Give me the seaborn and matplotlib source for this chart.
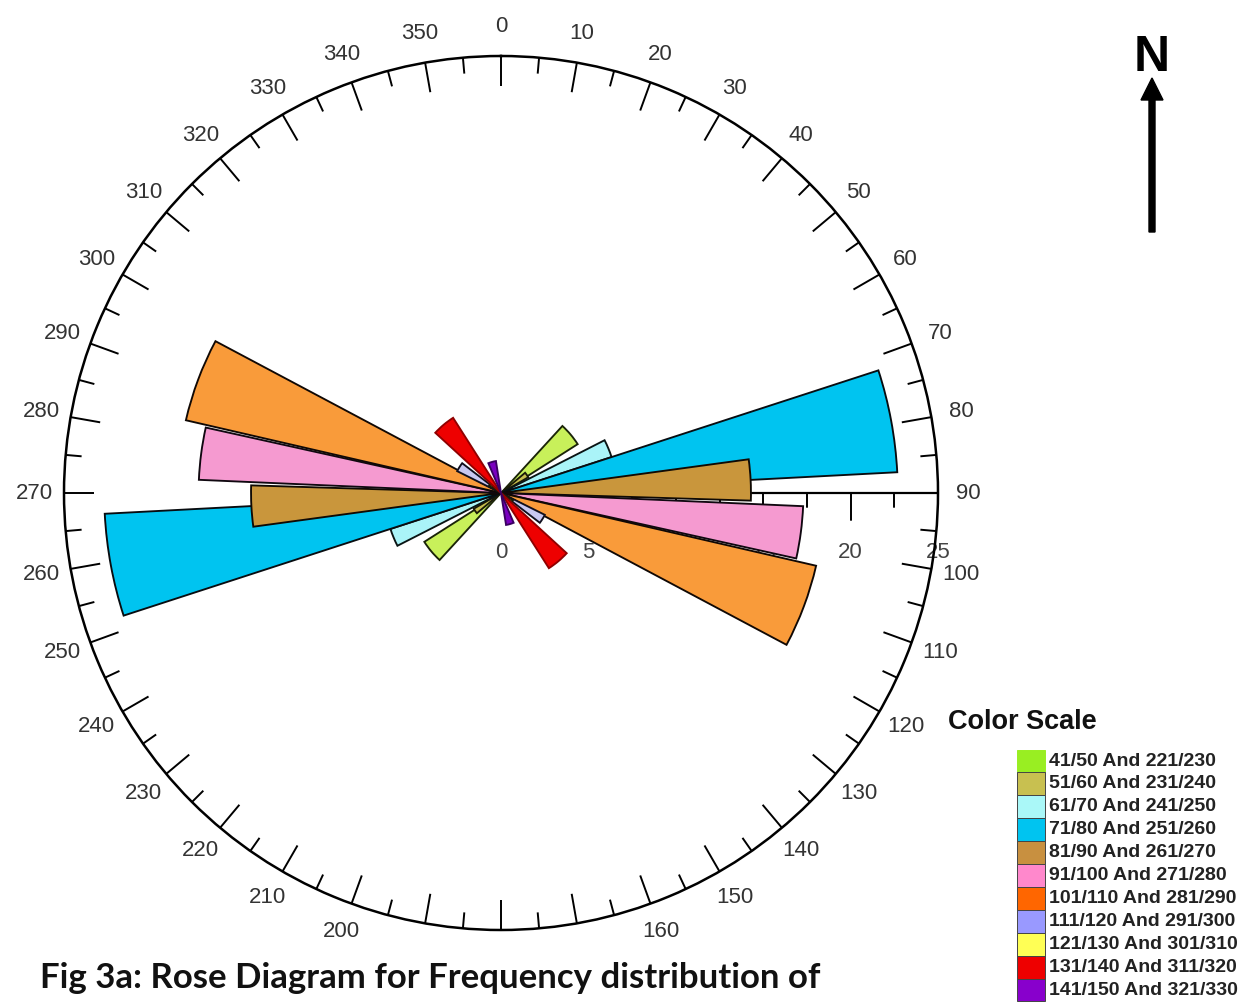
import numpy as np
import matplotlib
matplotlib.use("Agg")
import matplotlib.pyplot as plt
from matplotlib.patches import Rectangle, FancyArrow
import seaborn as sns

# ---- data: joint-strike frequency per direction class (bidirectional) ----
bin_labels = [
    "41/50 And 221/230",
    "51/60 And 231/240",
    "61/70 And 241/250",
    "71/80 And 251/260",
    "81/90 And 261/270",
    "91/100 And 271/280",
    "101/110 And 281/290",
    "111/120 And 291/300",
    "121/130 And 301/310",
    "131/140 And 311/320",
    "141/150 And 321/330",
]
petal_azimuth = [50, 55, 67.5, 79.5, 87, 97.5, 110.5, 122, 126, 140, 164]
petal_span = [15, 10, 9, 15, 9.5, 10, 15, 11, 10, 15, 14]
frequency = [5.2, 1.8, 6.65, 22.7, 14.3, 17.3, 18.5, 2.8, 0.8, 5.1, 1.85]

petal_colors = ["#c8f05a", "#c8c050", "#aaf4f8", "#00c4f0", "#c9963c", "#f59ad0",
                "#f99b3a", "#c8c8f2", "#ffff60", "#ee0000", "#7a00c0"]
petal_edges = ["#1a2408", "#1a1a08", "#0a1414", "#080c10", "#100a04", "#100810",
               "#100804", "#10101e", "#1a1a08", "#900000", "#3a0060"]
swatch_colors = ["#99ee22", "#c8c050", "#aaf8f8", "#00c4f0", "#c89040", "#ff88cc",
                 "#ff6600", "#9999ff", "#ffff55", "#ee0000", "#8800cc"]

radial_ticks = [0, 5, 10, 15, 20, 25]
compass_labels = [a for a in range(0, 360, 10) if a not in (170, 180, 190)]

sns.set_theme(style="white")
plt.rcParams["font.family"] = ["Liberation Sans", "DejaVu Sans"]

W, H = 1244, 1005
fig = plt.figure(figsize=(W / 100, H / 100), dpi=100)
fig.patch.set_facecolor("white")

cx, cy, R = 501, 493, 437          # rose centre and outer radius in pixels
rmax = 25
px = rmax / R                      # radial units per pixel

ax = fig.add_axes([(cx - R) / W, (H - cy - R) / H, 2 * R / W, 2 * R / H],
                  projection="polar")
ax.set_theta_zero_location("N")
ax.set_theta_direction(-1)
ax.set_ylim(0, rmax)
ax.grid(False)
ax.set_xticks([])
ax.set_yticks([])
ax.set_facecolor("none")
ax.spines["polar"].set_linewidth(1.8)
ax.spines["polar"].set_color("black")

# compass ticks on the rim
ang = np.arange(0, 360, 5)
tick_len = np.where(ang % 10 == 0, 30, 16) * px
ax.vlines(np.deg2rad(ang), rmax - tick_len, rmax, colors="black", lw=1.4, zorder=2)
for a in compass_labels:
    ax.text(np.deg2rad(a), 467 * px, str(a), ha="center", va="center",
            fontsize=16, color="#333333", clip_on=False)

# radial frequency scale along east
east = np.pi / 2
ax.plot([east, east], [0, rmax], color="black", lw=1.6, zorder=1.5)
for r in np.arange(2.5, rmax + 0.01, 2.5):
    L = (27 if abs(r % 5) < 1e-6 else 14) * px
    ax.plot([east, east + np.arctan2(L, r)], [r, np.hypot(r, L)],
            color="black", lw=1.4, zorder=1.5)
d = 59 * px
for r in radial_ticks:
    ax.text(east + np.arctan2(d, r), np.hypot(r, d), str(r), ha="center", va="center",
            fontsize=16, color="#444444", zorder=1.5, clip_on=False)

# petals, each class mirrored through the centre
for az, span, f, c, ec in zip(petal_azimuth, petal_span, frequency, petal_colors, petal_edges):
    ax.bar(np.deg2rad([az, az + 180]), [f, f], width=np.deg2rad(span), bottom=0,
           color=c, edgecolor=ec, linewidth=1.35, zorder=3, align="center")

# overlay in pixel coordinates for the key, north arrow and caption
key = fig.add_axes([0, 0, 1, 1])
key.set_xlim(0, W)
key.set_ylim(H, 0)
key.axis("off")
key.patch.set_alpha(0)

key.text(948, 722, "Color Scale", fontsize=19.5, weight="bold", color="#111111",
         ha="left", va="center")
row0, step = 761, 22.9
for i, (lab, sc) in enumerate(zip(bin_labels, swatch_colors)):
    y = row0 + i * step
    key.add_patch(Rectangle((1017, y - step / 2), 28, step, facecolor=sc,
                            edgecolor="#444444" if i else sc, lw=0.7))
    key.text(1049, y, lab, fontsize=14, weight="bold", color="#222222",
             ha="left", va="center")

key.add_patch(FancyArrow(1152, 232, 0, -154, width=6, head_width=22, head_length=22,
                         length_includes_head=True, color="black"))
key.text(1152, 58, "N", fontsize=36, weight="bold", color="black", ha="center", va="center")

key.text(40, 978, "Fig 3a: Rose Diagram for Frequency distribution of",
         fontfamily=["Lato", "DejaVu Sans"], fontsize=25, weight="bold",
         color="#111111", ha="left", va="center")

fig.savefig("out.png", dpi=100)
